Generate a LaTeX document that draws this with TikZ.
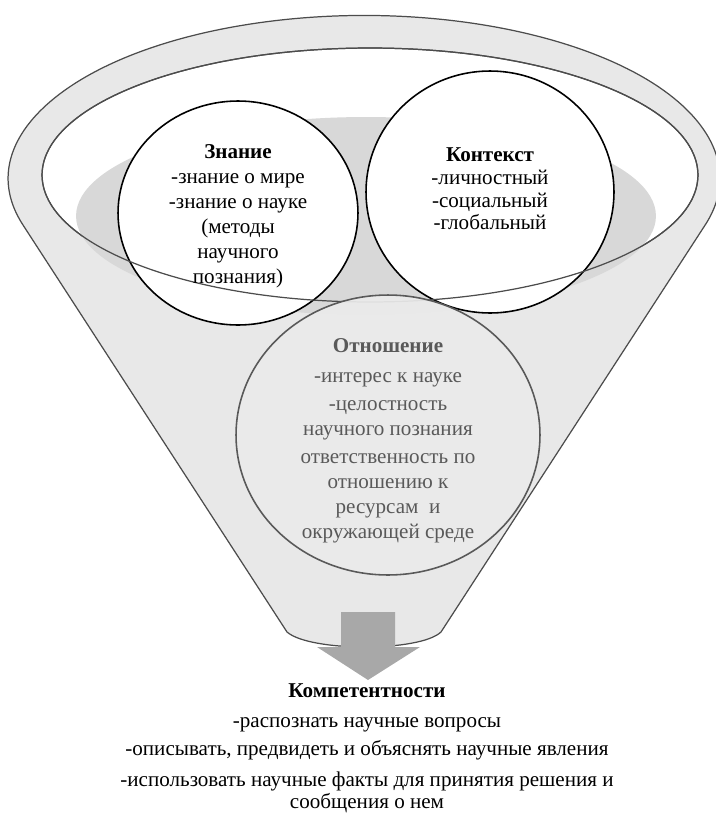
\documentclass[tikz,border=0pt]{standalone}
\usepackage{fontspec}
\setmainfont{Liberation Serif}
\usetikzlibrary{positioning, calc}
\definecolor{funnelgray}{RGB}{232,232,232}
\definecolor{shadowgray}{RGB}{216,216,216}
\definecolor{arrowgray}{RGB}{168,168,168}
\definecolor{textgray}{RGB}{89,89,89}
\tikzset{
    ring/.style = {draw=black!70, line width=0.7pt},
    bubble/.style = {draw=black, line width=0.9pt, fill=white},
    txt/.style = {align=center, inner sep=0pt, font=\fontsize{12}{14.2}\selectfont}
}

\begin{document}
\begin{tikzpicture}[x=0.02cm, y=0.02cm]
                \useasboundingbox (0,0) rectangle (716,-815);
                % funnel
                \draw[ring, fill=funnelgray] (287,-632) -- (23,-225)
                    arc[start angle=196.6, end angle=-16.6, x radius=7.12cm, y radius=3.26cm]
                    -- (441,-632) .. controls (420,-652) and (310,-652) .. (287,-632) -- cycle;
                \draw[ring, fill=white] (370,-175) ellipse[x radius=6.56cm, y radius=2.54cm];
                \fill[shadowgray] (366,-216) ellipse[x radius=5.8cm, y radius=1.98cm];
                % circles
                \draw[bubble] (238,-213) ellipse[x radius=2.4cm, y radius=2.24cm];
                \draw[bubble] (490,-192) ellipse[x radius=2.48cm, y radius=2.42cm];
                \draw[ring] (370,-175) ellipse[x radius=6.56cm, y radius=2.54cm];
                \draw[draw=black!65, line width=0.9pt, fill=funnelgray!85!white, fill opacity=0.92] (388,-435) ellipse[x radius=3.04cm, y radius=2.8cm];
                % arrow
                \fill[arrowgray] (341,-612) -- (395,-612) -- (395,-647) -- (420,-647) -- (368,-680) -- (317,-647) -- (341,-647) -- cycle;
                % texts
                \node[txt] (znanie) at (238,-216) {\textbf{Знание}\\-знание о мире\\-знание о науке\\(методы\\научного\\познания)};
                \node[txt, font=\fontsize{12}{12.9}\selectfont] (kontekst) at (490,-189) {\textbf{Контекст}\\-личностный\\-социальный\\-глобальный};
                \node[txt, text=textgray] (otnoshenie) at (388,-441) {\textbf{Отношение}\\[2.8pt]-интерес к науке\\[1.7pt]-целостность\\научного познания\\[1.7pt]ответственность по\\отношению к\\ресурсам\ \ и\\окружающей среде};
                \node[txt, anchor=north, font=\fontsize{12}{12.5}\selectfont] (kompetent) at (367,-683) {\textbf{Компетентности}\\[5pt]-распознать научные вопросы\\[3pt]-описывать, предвидеть и объяснять научные явления\\[5.5pt]-использовать научные факты для принятия решения и\\сообщения о нем};
\end{tikzpicture}
\end{document}
